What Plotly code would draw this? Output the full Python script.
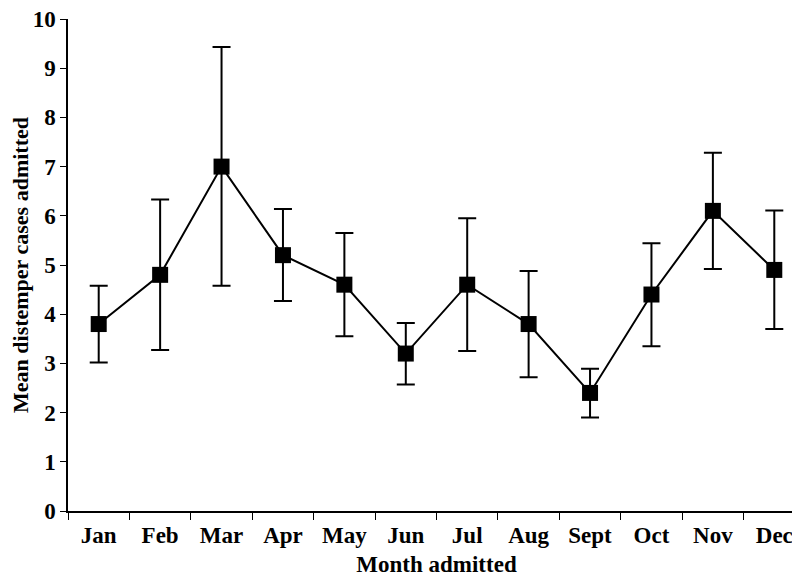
import plotly.graph_objects as go

months = ["Jan", "Feb", "Mar", "Apr", "May", "Jun", "Jul", "Aug", "Sept", "Oct", "Nov", "Dec"]
mean_cases = [3.8, 4.8, 7.0, 5.2, 4.6, 3.2, 4.6, 3.8, 2.4, 4.4, 6.1, 4.9]
upper = [4.58, 6.33, 9.43, 6.14, 5.65, 3.82, 5.95, 4.88, 2.89, 5.44, 7.28, 6.11]
lower = [3.02, 3.27, 4.58, 4.27, 3.55, 2.57, 3.25, 2.72, 1.90, 3.35, 4.92, 3.70]
y_ticks = [0, 1, 2, 3, 4, 5, 6, 7, 8, 9, 10]

err_plus = [u - m for u, m in zip(upper, mean_cases)]
err_minus = [m - l for m, l in zip(mean_cases, lower)]

font_family = "Liberation Serif"
fs = 23

fig = go.Figure()
fig.add_trace(go.Scatter(
    x=months,
    y=mean_cases,
    mode="lines+markers",
    line=dict(color="black", width=2),
    marker=dict(symbol="square", size=16, color="black"),
    error_y=dict(
        type="data",
        symmetric=False,
        array=err_plus,
        arrayminus=err_minus,
        color="black",
        thickness=2,
        width=9,
    ),
    showlegend=False,
))

fig.update_layout(
    width=800,
    height=576,
    margin=dict(l=59.5, r=2.7, t=11, b=73.3),
    paper_bgcolor="white",
    plot_bgcolor="white",
    font=dict(family=font_family, color="black", size=fs),
    xaxis=dict(
        type="category",
        range=[-0.5, 11.5],
        automargin=False,
        showline=True,
        linecolor="black",
        linewidth=1.5,
        ticks="outside",
        tickson="boundaries",
        ticklen=7,
        tickwidth=1,
        tickcolor="black",
        showgrid=False,
        zeroline=False,
        ticklabeloverflow="allow",
        ticklabelstandoff=3,
        tickfont=dict(family=font_family, size=fs, color="black", weight="bold"),
        title=dict(text="<b>Month admitted</b>", font=dict(family=font_family, size=fs, color="black"), standoff=9),
    ),
    yaxis=dict(
        range=[0, 10],
        tickvals=y_ticks,
        automargin=False,
        showline=True,
        linecolor="black",
        linewidth=1.5,
        ticks="outside",
        ticklen=6,
        tickwidth=1,
        tickcolor="black",
        showgrid=False,
        zeroline=False,
        ticklabeloverflow="allow",
        tickfont=dict(family=font_family, size=fs, color="black", weight="bold"),
        title=dict(text="<b>Mean distemper cases admitted</b>", font=dict(family=font_family, size=22, color="black"), standoff=5),
    ),
)

fig.write_html("out.html")
